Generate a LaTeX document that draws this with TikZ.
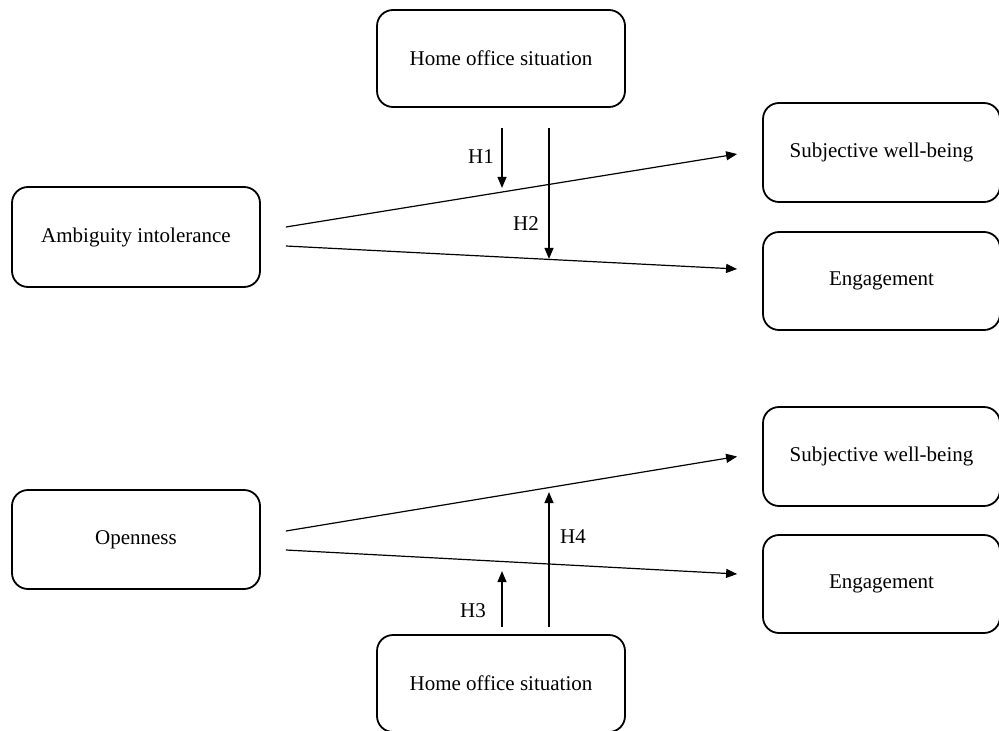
\documentclass[tikz,border=0pt]{standalone}
\usepackage{fontspec}
\setmainfont{Liberation Serif}
\usetikzlibrary{arrows.meta}
\begin{document}
\begin{tikzpicture}[x=1pt,y=-1pt,
  box/.style={draw, line width=1.8pt, rounded corners=16pt, align=center,
    font=\fontsize{21}{25}\selectfont, inner sep=0pt},
  lbl/.style={font=\fontsize{21}{25}\selectfont, inner sep=0pt},
  arr/.style={line width=1.2pt, -{Triangle[length=11pt,width=9pt]}},
  ln/.style={line width=1.2pt}]
\useasboundingbox (0,0) rectangle (999,731);
\begin{scope}
\clip (0,0) rectangle (999,731);
\node[box, minimum width=248pt, minimum height=97pt] (home1) at (501,58.5) {Home office situation};
\node[box, minimum width=248pt, minimum height=100pt] (amb) at (136,237) {Ambiguity intolerance};
\node[box, minimum width=237pt, minimum height=99pt] (swb1) at (881.5,152.5) {Subjective well-being};
\node[box, minimum width=237pt, minimum height=98pt] (eng1) at (881.5,281) {Engagement};
\node[box, minimum width=248pt, minimum height=99pt] (open) at (136,539.5) {Openness};
\node[box, minimum width=237pt, minimum height=99pt] (swb2) at (881.5,456.5) {Subjective well-being};
\node[box, minimum width=237pt, minimum height=98pt] (eng2) at (881.5,584) {Engagement};
\node[box, minimum width=248pt, minimum height=97pt] (home2) at (501,683.5) {Home office situation};
\end{scope}

\draw[arr] ([xshift=25pt,yshift=10pt]amb.east) -- ([xshift=-25pt,yshift=-1.5pt]swb1.west);
\draw[arr] ([xshift=25pt,yshift=-9pt]amb.east) -- ([xshift=-25pt,yshift=12pt]eng1.west);
\draw[arr] ([xshift=25pt,yshift=8.5pt]open.east) -- ([xshift=-25pt]swb2.west);
\draw[arr] ([xshift=25pt,yshift=-10.5pt]open.east) -- ([xshift=-25pt,yshift=10pt]eng2.west);

\draw[arr] ([xshift=1pt,yshift=-20pt]home1.south) -- ++(0,60);
\draw[arr] ([xshift=48pt,yshift=-20pt]home1.south) -- ++(0,131);
\draw[arr] ([xshift=1pt,yshift=7pt]home2.north) -- ++(0,-56);
\draw[arr] ([xshift=48pt,yshift=7pt]home2.north) -- ++(0,-135);

\node[lbl] (h1) at (481,157) {H1};
\node[lbl] (h2) at (526,224) {H2};
\node[lbl] (h3) at (473,611) {H3};
\node[lbl] (h4) at (573,537) {H4};
\end{tikzpicture}
\end{document}
